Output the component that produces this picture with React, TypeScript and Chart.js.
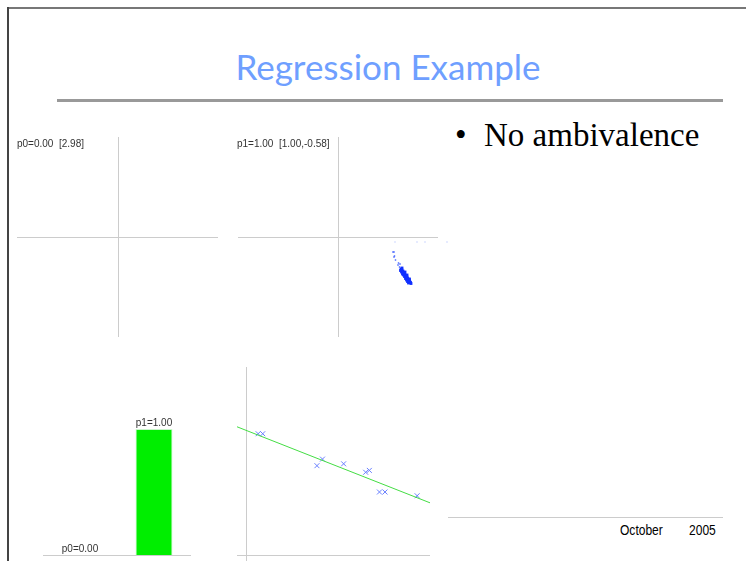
import React, { useEffect, useRef } from "react";
import { Chart, registerables } from "chart.js";

Chart.register(...registerables);

// ---------- text ----------
const titleText = "Regression Example";
const bulletText = "No ambivalence";
const footerMonth = "October";
const footerYear = "2005";
const panel1Label = "p0=0.00  [2.98]";
const panel2Label = "p1=1.00  [1.00,-0.58]";

// ---------- panel 2: particles ----------
const sparseX = [0.57, 0.79, 0.87, 1.09];
const sparseY = [-0.05, -0.05, -0.05, -0.05];
const trailX = [0.55, 0.56, 0.565, 0.56, 0.575, 0.605, 0.62, 0.6, 0.615];
const trailY = [-0.15, -0.15, -0.19, -0.2, -0.23, -0.26, -0.27, -0.28, -0.3];
const clusterX = [
  0.63, 0.64, 0.625, 0.65, 0.635, 0.655, 0.665, 0.645, 0.67, 0.655, 0.68, 0.685, 0.665, 0.69,
  0.695, 0.675, 0.7, 0.705, 0.685, 0.71, 0.715, 0.695, 0.72, 0.725, 0.705, 0.66, 0.68, 0.71, 0.645,
  0.7, 0.64, 0.67, 0.69, 0.715, 0.73, 0.65,
];
const clusterY = [
  -0.32, -0.33, -0.335, -0.34, -0.35, -0.355, -0.36, -0.37, -0.375, -0.38, -0.385, -0.39, -0.395,
  -0.4, -0.41, -0.415, -0.42, -0.425, -0.43, -0.435, -0.44, -0.445, -0.45, -0.455, -0.46, -0.365,
  -0.4, -0.44, -0.345, -0.425, -0.31, -0.35, -0.38, -0.42, -0.465, -0.36,
];

// ---------- panel 3: bars ----------
const barCategories = ["p0", "p1"];
const barValues = [0.0, 1.0];
const barLabels = ["p0=0.00", "p1=1.00"];

// ---------- panel 4: regression ----------
const obsX = [0.13, 0.18, 0.83, 0.77, 1.06, 1.3, 1.34, 1.45, 1.51, 1.86];
const obsY = [1.29, 1.29, 1.02, 0.95, 0.97, 0.88, 0.9, 0.67, 0.67, 0.63];
const fitX = [-0.1, 2.0];
const fitY = [1.364, 0.555];

const zip = (xs: number[], ys: number[]) => xs.map((x, i) => ({ x, y: ys[i] }));

const crosshair = {
  id: "crosshair",
  beforeDatasetsDraw(chart: any) {
    const { ctx, scales } = chart;
    const xs = scales.x;
    const ys = scales.y;
    ctx.save();
    ctx.strokeStyle = "#cccccc";
    ctx.lineWidth = 1;
    const x0 = Math.round(xs.getPixelForValue(0)) + 0.5;
    const y0 = Math.round(ys.getPixelForValue(0)) + 0.5;
    ctx.beginPath();
    ctx.moveTo(x0, ys.getPixelForValue(1));
    ctx.lineTo(x0, ys.getPixelForValue(-1));
    ctx.moveTo(xs.getPixelForValue(-1), y0);
    ctx.lineTo(xs.getPixelForValue(1), y0);
    ctx.stroke();
    ctx.restore();
  },
};

const barDecor = {
  id: "barDecor",
  beforeDatasetsDraw(chart: any) {
    const { ctx, scales, chartArea } = chart;
    const y0 = Math.round(scales.y.getPixelForValue(0)) + 0.5;
    ctx.save();
    ctx.strokeStyle = "#cccccc";
    ctx.lineWidth = 1;
    ctx.beginPath();
    ctx.moveTo(chartArea.left, y0);
    ctx.lineTo(chartArea.right, y0);
    ctx.stroke();
    ctx.restore();
  },
  afterDatasetsDraw(chart: any) {
    const { ctx } = chart;
    const meta = chart.getDatasetMeta(0);
    ctx.save();
    ctx.fillStyle = "#333333";
    ctx.font = "10px 'Liberation Sans', Arial, sans-serif";
    ctx.textAlign = "center";
    ctx.textBaseline = "alphabetic";
    meta.data.forEach((el: any, i: number) => {
      ctx.fillText(barLabels[i], el.x, el.y - 3);
    });
    ctx.restore();
  },
};

const regAxes = {
  id: "regAxes",
  beforeDatasetsDraw(chart: any) {
    const { ctx, scales, chartArea } = chart;
    const x0 = Math.round(scales.x.getPixelForValue(0)) + 0.5;
    const y0 = Math.round(scales.y.getPixelForValue(0)) + 0.5;
    ctx.save();
    ctx.strokeStyle = "#cccccc";
    ctx.lineWidth = 1;
    ctx.beginPath();
    ctx.moveTo(x0, chartArea.top);
    ctx.lineTo(x0, chartArea.bottom);
    ctx.moveTo(chartArea.left, y0);
    ctx.lineTo(chartArea.right, y0);
    ctx.stroke();
    ctx.restore();
  },
};

function baseOptions(xMin: number, xMax: number, yMin: number, yMax: number, linear = true): any {
  return {
    responsive: false,
    maintainAspectRatio: false,
    animation: false,
    layout: { padding: 0, autoPadding: false },
    plugins: { legend: { display: false }, tooltip: { enabled: false }, title: { display: false } },
    scales: {
      x: linear
        ? { type: "linear", min: xMin, max: xMax, display: false }
        : { display: false },
      y: { type: "linear", min: yMin, max: yMax, display: false },
    },
  };
}

function ChartBox({ left, top, width, height, make }: any) {
  const ref = useRef<HTMLCanvasElement>(null);
  useEffect(() => {
    const chart = make(ref.current);
    return () => chart.destroy();
  }, []);
  return (
    <canvas
      ref={ref}
      width={width}
      height={height}
      style={{ position: "absolute", left, top, width, height }}
    />
  );
}

const labelStyle: React.CSSProperties = {
  position: "absolute",
  fontFamily: "'Liberation Sans', Arial, sans-serif",
  fontSize: 10,
  lineHeight: "10px",
  color: "#333333",
  whiteSpace: "pre",
};

const serifText: React.CSSProperties = {
  position: "absolute",
  top: 119,
  fontFamily: "'Liberation Serif', 'Times New Roman', serif",
  fontSize: 33,
  lineHeight: "33px",
  color: "#000000",
  whiteSpace: "nowrap",
};

const footerText: React.CSSProperties = {
  position: "absolute",
  top: 523,
  fontFamily: "'Liberation Sans', Arial, sans-serif",
  fontSize: 14,
  lineHeight: "14px",
  color: "#000000",
  transform: "scaleX(0.86)",
  transformOrigin: "left",
  whiteSpace: "nowrap",
};

export default function App() {
  useEffect(() => {
    document.body.style.margin = "0";
  }, []);

  return (
    <div
      style={{
        position: "fixed",
        left: 0,
        top: 0,
        width: 746,
        height: 561,
        background: "#ffffff",
        overflow: "hidden",
      }}
    >
      {/* slide frame */}
      <div style={{ position: "absolute", left: 8, top: 7, width: 738, height: 2, background: "#777777" }} />
      <div style={{ position: "absolute", left: 7, top: 7, width: 2, height: 554, background: "#444444" }} />

      {/* title */}
      <div
        style={{
          position: "absolute",
          left: 188,
          top: 46,
          width: 400,
          textAlign: "center",
          fontFamily: "'Comic Sans MS', Lato, sans-serif",
          fontSize: 35,
          lineHeight: "40px",
          color: "#6f9fff",
        }}
      >
        {titleText}
      </div>
      <div style={{ position: "absolute", left: 57, top: 99, width: 666, height: 3, background: "#999999" }} />

      {/* bullet */}
      <div style={{ ...serifText, left: 455 }}>•</div>
      <div style={{ ...serifText, left: 484 }}>{bulletText}</div>

      {/* footer */}
      <div style={{ position: "absolute", left: 448, top: 517, width: 275, height: 1, background: "#cccccc" }} />
      <div style={{ ...footerText, left: 620 }}>{footerMonth}</div>
      <div style={{ ...footerText, left: 689 }}>{footerYear}</div>

      {/* panel 1 */}
      <ChartBox
        left={17}
        top={137}
        width={201}
        height={200}
        make={(c: HTMLCanvasElement) =>
          new Chart(c, {
            type: "scatter",
            data: { datasets: [{ data: [], pointRadius: 0 }] },
            options: baseOptions(-1, 1, -1, 1),
            plugins: [crosshair],
          } as any)
        }
      />
      <div style={{ ...labelStyle, left: 17, top: 139 }}>{panel1Label}</div>

      {/* panel 2 */}
      <ChartBox
        left={238}
        top={137}
        width={212}
        height={200}
        make={(c: HTMLCanvasElement) =>
          new Chart(c, {
            type: "scatter",
            data: {
              datasets: [
                {
                  data: zip(sparseX, sparseY),
                  pointStyle: "rect",
                  pointRadius: 0.8,
                  backgroundColor: "#a8b8ff",
                  borderWidth: 0,
                },
                {
                  data: zip(trailX, trailY),
                  pointStyle: "rect",
                  pointRadius: 1,
                  backgroundColor: "#4060ff",
                  borderWidth: 0,
                },
                {
                  data: zip(clusterX, clusterY),
                  pointStyle: "rect",
                  pointRadius: 2,
                  backgroundColor: "#1030ff",
                  borderWidth: 0,
                },
              ],
            },
            options: baseOptions(-1, 1.12, -1, 1),
            plugins: [crosshair],
          } as any)
        }
      />
      <div style={{ ...labelStyle, left: 237, top: 139 }}>{panel2Label}</div>

      {/* panel 3 */}
      <ChartBox
        left={43}
        top={361}
        width={148}
        height={200}
        make={(c: HTMLCanvasElement) =>
          new Chart(c, {
            type: "bar",
            data: {
              labels: barCategories,
              datasets: [
                {
                  data: barValues,
                  backgroundColor: "#00ee00",
                  borderColor: "#c8f5c8",
                  borderWidth: 1,
                  categoryPercentage: 1,
                  barPercentage: 0.5,
                },
              ],
            },
            options: baseOptions(0, 0, -0.0476, 1.54, false),
            plugins: [barDecor],
          } as any)
        }
      />

      {/* panel 4 */}
      <ChartBox
        left={237}
        top={367}
        width={193}
        height={194}
        make={(c: HTMLCanvasElement) =>
          new Chart(c, {
            type: "scatter",
            data: {
              datasets: [
                {
                  type: "line",
                  data: zip(fitX, fitY),
                  borderColor: "#44dd44",
                  borderWidth: 1,
                  pointRadius: 0,
                  showLine: true,
                },
                {
                  data: zip(obsX, obsY),
                  pointStyle: "crossRot",
                  pointRadius: 3.5,
                  borderColor: "#6a80ff",
                  borderWidth: 1,
                },
              ],
            },
            options: baseOptions(-0.1, 2.0, -0.064, 2.0),
            plugins: [regAxes],
          } as any)
        }
      />
    </div>
  );
}
